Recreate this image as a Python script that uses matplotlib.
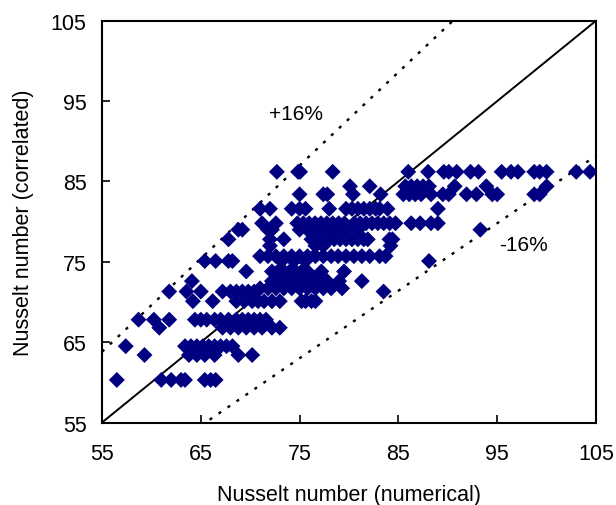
import matplotlib
matplotlib.use("Agg")
import matplotlib.pyplot as plt
import numpy as np

plt.rcParams['font.family'] = ['Liberation Sans', 'DejaVu Sans']

# Correlated Nusselt level of each row of points, and the numerical values on that row
row_levels = [86.2, 84.4, 83.4, 81.6, 79.8, 79.0, 77.8, 77.0, 75.7, 75.1,
              73.8, 73.0, 72.6, 71.7, 71.3, 70.1, 67.8, 66.8, 64.5, 63.4, 60.3]
row_86_2 = [72.7, 74.85, 75.05, 78.35, 86.0, 88.0, 89.6, 90.1, 90.9, 92.3, 93.1,
            95.45, 96.4, 97.1, 98.75, 99.3, 100.0, 103.0, 104.4]
row_84_4 = [80.1, 82.1, 85.7, 86.3, 86.9, 87.5, 88.1, 90.7, 93.9, 100.0]
row_83_4 = [75.0, 77.4, 77.8, 80.4, 83.2, 85.5, 86.1, 86.7, 87.3, 88.3, 89.5,
            90.1, 91.9, 92.9, 94.5, 95.0, 98.75, 99.3]
row_81_6 = [71.0, 72.0, 74.2, 75.0, 75.6, 78.0, 79.7, 80.3, 80.9, 81.5, 82.1,
            82.7, 83.1, 83.9, 89.0]
row_79_8 = [71.2, 72.6, 74.77, 75.37, 75.96, 76.56, 77.16, 77.75, 78.35, 78.95,
            79.54, 80.54, 81.13, 81.73, 82.33, 82.92, 83.52, 84.12, 84.71, 86.3,
            87.2, 88.3, 89.0]
row_79_0 = [68.8, 69.2, 71.8, 72.2, 75.0, 75.8, 76.6, 77.4, 78.2, 79.0, 79.7,
            80.9, 93.3]
row_77_8 = [67.8, 72.0, 73.4, 76.2, 76.8, 77.4, 78.0, 78.5, 79.1, 79.7, 80.3,
            80.9, 81.5, 81.9, 84.1, 84.4]
row_77_0 = [72.0, 76.6, 77.4, 84.2]
row_75_7 = [71.0, 71.8, 72.6, 73.4, 74.2, 75.0, 75.8, 76.6, 77.4, 78.2, 78.9,
            79.7, 80.5, 81.3, 82.1, 83.1, 83.7]
row_75_1 = [65.4, 66.5, 67.8, 68.2, 73.2, 74.4, 75.6, 88.1]
row_73_8 = [69.6, 72.2, 72.8, 73.4, 74.0, 74.6, 75.2, 75.8, 77.2, 79.5]
row_73_0 = [72.6, 73.4, 74.2, 75.0, 75.8, 76.6]
row_72_6 = [64.1, 72.2, 73.0, 73.8, 74.6, 75.4, 76.2, 77.0, 77.8, 79.0, 81.3]
row_71_7 = [71.0, 71.8, 72.6, 73.4, 74.2, 75.0, 75.8, 76.6, 77.4, 78.2, 79.3]
row_71_3 = [61.8, 63.55, 65.0, 67.2, 68.0, 68.6, 69.2, 69.8, 70.4, 83.5]
row_70_1 = [64.2, 66.2, 68.6, 69.4, 70.2, 70.8, 71.4, 72.2, 73.0, 75.2, 75.6,
            76.2, 76.6]
row_67_8 = [58.7, 60.25, 61.8, 64.4, 65.0, 65.6, 66.4, 67.0, 67.8, 68.6, 69.2,
            69.8, 70.4, 71.0, 71.6]
row_66_8 = [60.8, 67.2, 68.0, 68.8, 69.6, 70.4, 71.2, 72.2, 73.0]
row_64_5 = [57.4, 63.4, 64.0, 64.6, 65.2, 65.8, 66.4, 67.0, 67.6, 68.2]
row_63_4 = [59.3, 63.8, 64.6, 65.4, 66.4, 68.8, 70.2]
row_60_3 = [56.5, 61.0, 62.0, 63.0, 63.4, 65.4, 66.0, 66.5]

rows = [row_86_2, row_84_4, row_83_4, row_81_6, row_79_8, row_79_0, row_77_8,
        row_77_0, row_75_7, row_75_1, row_73_8, row_73_0, row_72_6, row_71_7,
        row_71_3, row_70_1, row_67_8, row_66_8, row_64_5, row_63_4, row_60_3]

nu_numerical = np.concatenate([np.array(r, dtype=float) for r in rows])
nu_correlated = np.concatenate([np.full(len(r), lvl) for r, lvl in zip(rows, row_levels)])

ticks = [55, 65, 75, 85, 95, 105]
band = 0.16

fig = plt.figure(figsize=(6.16, 5.06), dpi=100)
ax = fig.add_axes([0.1656, 0.163, 0.8019, 0.794])

line = np.array([55.0, 105.0])
ax.plot(line, line, color='black', lw=1.4, zorder=2)
ax.plot(line, line * (1 + band), color='black', lw=1.7, linestyle=(0, (1.3, 3.3)), zorder=2)
ax.plot(line, line * (1 - band), color='black', lw=1.7, linestyle=(0, (1.3, 3.3)), zorder=2)

ax.scatter(nu_numerical, nu_correlated, marker='D', s=66, color='#000080',
           edgecolors='none', zorder=3)

ax.text(74.6, 93.4, '+16%', fontsize=15, ha='center', va='center')
ax.text(97.7, 77.2, '-16%', fontsize=15, ha='center', va='center')

ax.set_xlim(55, 105)
ax.set_ylim(55, 105)
ax.set_xticks(ticks)
ax.set_yticks(ticks)
ax.tick_params(direction='in', length=6, width=1.2, labelsize=15.5)
ax.tick_params(axis='x', pad=15)
ax.tick_params(axis='y', pad=11)
for s in ax.spines.values():
    s.set_linewidth(1.5)

ax.set_xlabel('Nusselt number (numerical)', fontsize=15.5, labelpad=14)
ax.set_ylabel('Nusselt number (correlated)', fontsize=15.5, labelpad=12)

fig.savefig('out.png', dpi=100)
